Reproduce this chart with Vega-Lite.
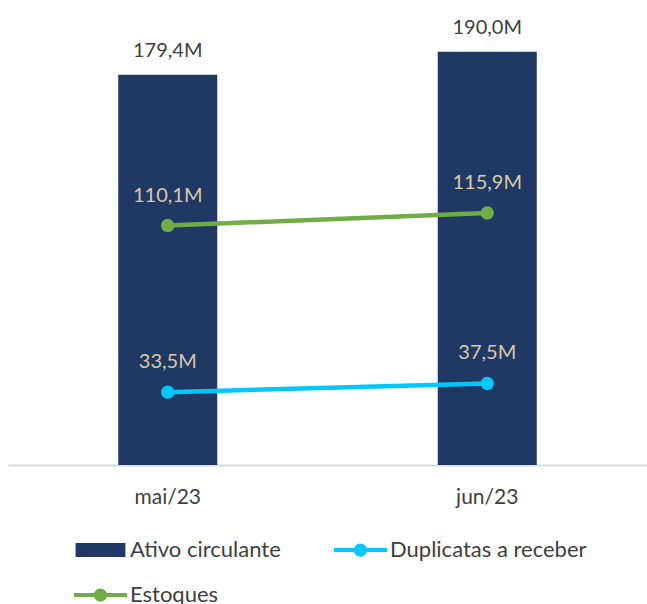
{
  "$schema": "https://vega.github.io/schema/vega-lite/v6.json",
  "width": 639,
  "height": 435,
  "autosize": {"type": "none"},
  "padding": {"left": 8, "top": 30, "right": 0, "bottom": 139},
  "background": "white",
  "config": {
    "view": {"stroke": null},
    "font": "Lato",
    "locale": {"number": {"decimal": ",", "thousands": ".", "grouping": [3], "currency": ["", "M"]}}
  },
  "data": {
    "values": [
      {"mes": "mai/23", "serie": "Ativo circulante", "valor": 179.4},
      {"mes": "jun/23", "serie": "Ativo circulante", "valor": 190.0},
      {"mes": "mai/23", "serie": "Duplicatas a receber", "valor": 33.5},
      {"mes": "jun/23", "serie": "Duplicatas a receber", "valor": 37.5},
      {"mes": "mai/23", "serie": "Estoques", "valor": 110.1},
      {"mes": "jun/23", "serie": "Estoques", "valor": 115.9}
    ]
  },
  "encoding": {
    "x": {
      "field": "mes", "type": "nominal", "sort": ["mai/23", "jun/23"],
      "scale": {"paddingInner": 0.69, "paddingOuter": 0.345},
      "axis": {"title": null, "domainColor": "#D9D9D9", "domainWidth": 2, "ticks": false, "labelAngle": 0,
               "labelFontSize": 21, "labelColor": "#404040", "labelPadding": 21, "grid": false, "labelFont": "Lato"}
    },
    "y": {"field": "valor", "type": "quantitative", "scale": {"domain": [0, 200]}, "axis": null}
  },
  "layer": [
    {
      "transform": [{"filter": "datum.serie == 'Ativo circulante'"}],
      "mark": {"type": "bar"},
      "encoding": {
        "color": {
          "field": "serie", "type": "nominal",
          "scale": {"domain": ["Ativo circulante", "Duplicatas a receber", "Estoques"], "range": ["#1F3864", "#00C8FF", "#70AD47"]},
          "legend": {
            "orient": "none", "legendX": 66, "legendY": 510, "columns": 2, "direction": "horizontal", "title": null,
            "symbolSize": 2809, "clipHeight": 20, "rowPadding": 23, "columnPadding": 53, "labelOffset": 3,
            "labelFontSize": 22, "labelColor": "#404040", "labelFont": "Lato", "labelLimit": 400, "symbolStrokeWidth": 0,
            "encode": {"symbols": {"update": {
              "shape": {"signal": "datum.label == 'Ativo circulante' ? 'M-0.94,-0.26H0.94V0.26H-0.94Z' : 'M-1,-0.075H1V0.075H-1Z M0.25,0A0.25,0.25 0 1,1 -0.25,0A0.25,0.25 0 1,1 0.25,0Z'"},
              "fill": {"scale": "color", "field": "value"},
              "strokeWidth": {"value": 0},
              "opacity": {"value": 1}
            }}}
          }
        }
      }
    },
    {
      "transform": [{"filter": "datum.serie == 'Ativo circulante'"}],
      "mark": {"type": "text", "baseline": "alphabetic", "dy": -18, "fontSize": 20, "color": "#404040", "font": "Lato"},
      "encoding": {"text": {"field": "valor", "type": "quantitative", "format": "$.1f"}}
    },
    {
      "transform": [{"filter": "datum.serie != 'Ativo circulante'"}],
      "mark": {"type": "line", "strokeWidth": 4.5},
      "encoding": {"color": {"field": "serie", "type": "nominal"}}
    },
    {
      "transform": [{"filter": "datum.serie != 'Ativo circulante'"}],
      "mark": {"type": "point", "filled": true, "size": 180, "opacity": 1},
      "encoding": {"color": {"field": "serie", "type": "nominal"}}
    },
    {
      "transform": [{"filter": "datum.serie != 'Ativo circulante'"}],
      "mark": {"type": "text", "baseline": "alphabetic", "dy": -24, "fontSize": 20, "color": "#D9C8A9", "font": "Lato"},
      "encoding": {"text": {"field": "valor", "type": "quantitative", "format": "$.1f"}}
    }
  ]
}
